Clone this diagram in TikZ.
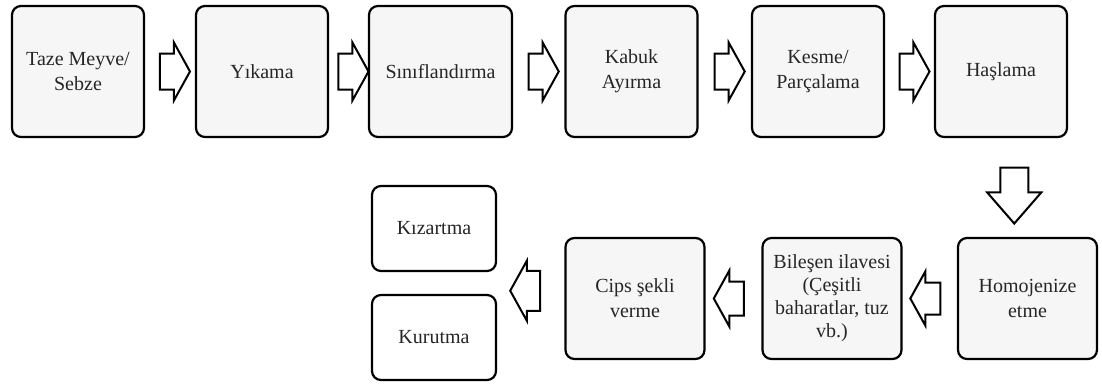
\documentclass[tikz,border=0pt]{standalone}
\usepackage{fontspec}
\setmainfont{Liberation Serif}
\usetikzlibrary{positioning,shapes.arrows,calc}

\begin{document}
\begin{tikzpicture}[x=1pt,y=-1pt,font=\fontsize{20}{25}\selectfont,
  box/.style={draw,line width=2.2pt,rounded corners=9pt,fill=gray!7,text=black!85,
    align=center,inner sep=0pt,minimum width=132pt,minimum height=131pt},
  lowbox/.style={box,minimum width=139pt,minimum height=121pt},
  endbox/.style={box,fill=white,minimum width=124pt,minimum height=85pt},
  blockarrow/.style={single arrow,draw,fill=white,line width=2pt,
    inner xsep=0pt,inner ysep=17pt,minimum height=30pt,
    single arrow head extend=11pt,single arrow tip angle=122}]
\useasboundingbox (0,0) rectangle (1102,388);

\node[box] (taze) at (78,71.5) {Taze Meyve/\\Sebze};
\node[box] (yikama) at (262,71.5) {Yıkama};
\node[box,minimum width=143pt] (sinif) at (440.5,71.5) {Sınıflandırma};
\node[box] (kabuk) at (631.5,71.5) {Kabuk\\Ayırma};
\node[box] (kesme) at (818,71.5) {Kesme/\\Parçalama};
\node[box] (haslama) at (1001,71.5) {Haşlama};

\node[lowbox] (homo) at (1027.5,298.5) {Homojenize\\etme};
\node[lowbox,font=\fontsize{20}{23}\selectfont] (bilesen) at (832,298.5)
  {Bileşen ilavesi\\(Çeşitli\\baharatlar, tuz\\vb.)};
\node[lowbox] (cips) at (635,298.5) {Cips şekli\\verme};
\node[endbox] (kizartma) at (434,228.5) {Kızartma};
\node[endbox] (kurutma) at (434,337.5) {Kurutma};
\coordinate (fork) at ($(kizartma.east)!0.5!(kurutma.east)$);

\node[blockarrow] (a1) at ($(taze.east)!0.5!(yikama.west)$) {};
\node[blockarrow] (a2) at ($(yikama.east)!0.5!(sinif.west)$) {};
\node[blockarrow] (a3) at ($(sinif.east)!0.5!(kabuk.west)$) {};
\node[blockarrow] (a4) at ($(kabuk.east)!0.5!(kesme.west)$) {};
\node[blockarrow] (a5) at ($(kesme.east)!0.5!(haslama.west)$) {};
\node[blockarrow,rotate=-90,inner ysep=13pt,minimum height=56pt,
  single arrow head extend=13pt,single arrow tip angle=82]
  (a6) at ($(haslama.south)!0.5!(homo.north)$) {};
\node[blockarrow,rotate=180,inner ysep=15pt] (a7) at ($(homo.west)!0.5!(bilesen.east)$) {};
\node[blockarrow,rotate=180,inner ysep=16pt] (a8) at ($(bilesen.west)!0.5!(cips.east)$) {};
\node[blockarrow,rotate=180,inner ysep=19pt,single arrow head extend=10pt]
  (a9) at ($(cips.west)!0.5!(fork)$) {};

\end{tikzpicture}
\end{document}
